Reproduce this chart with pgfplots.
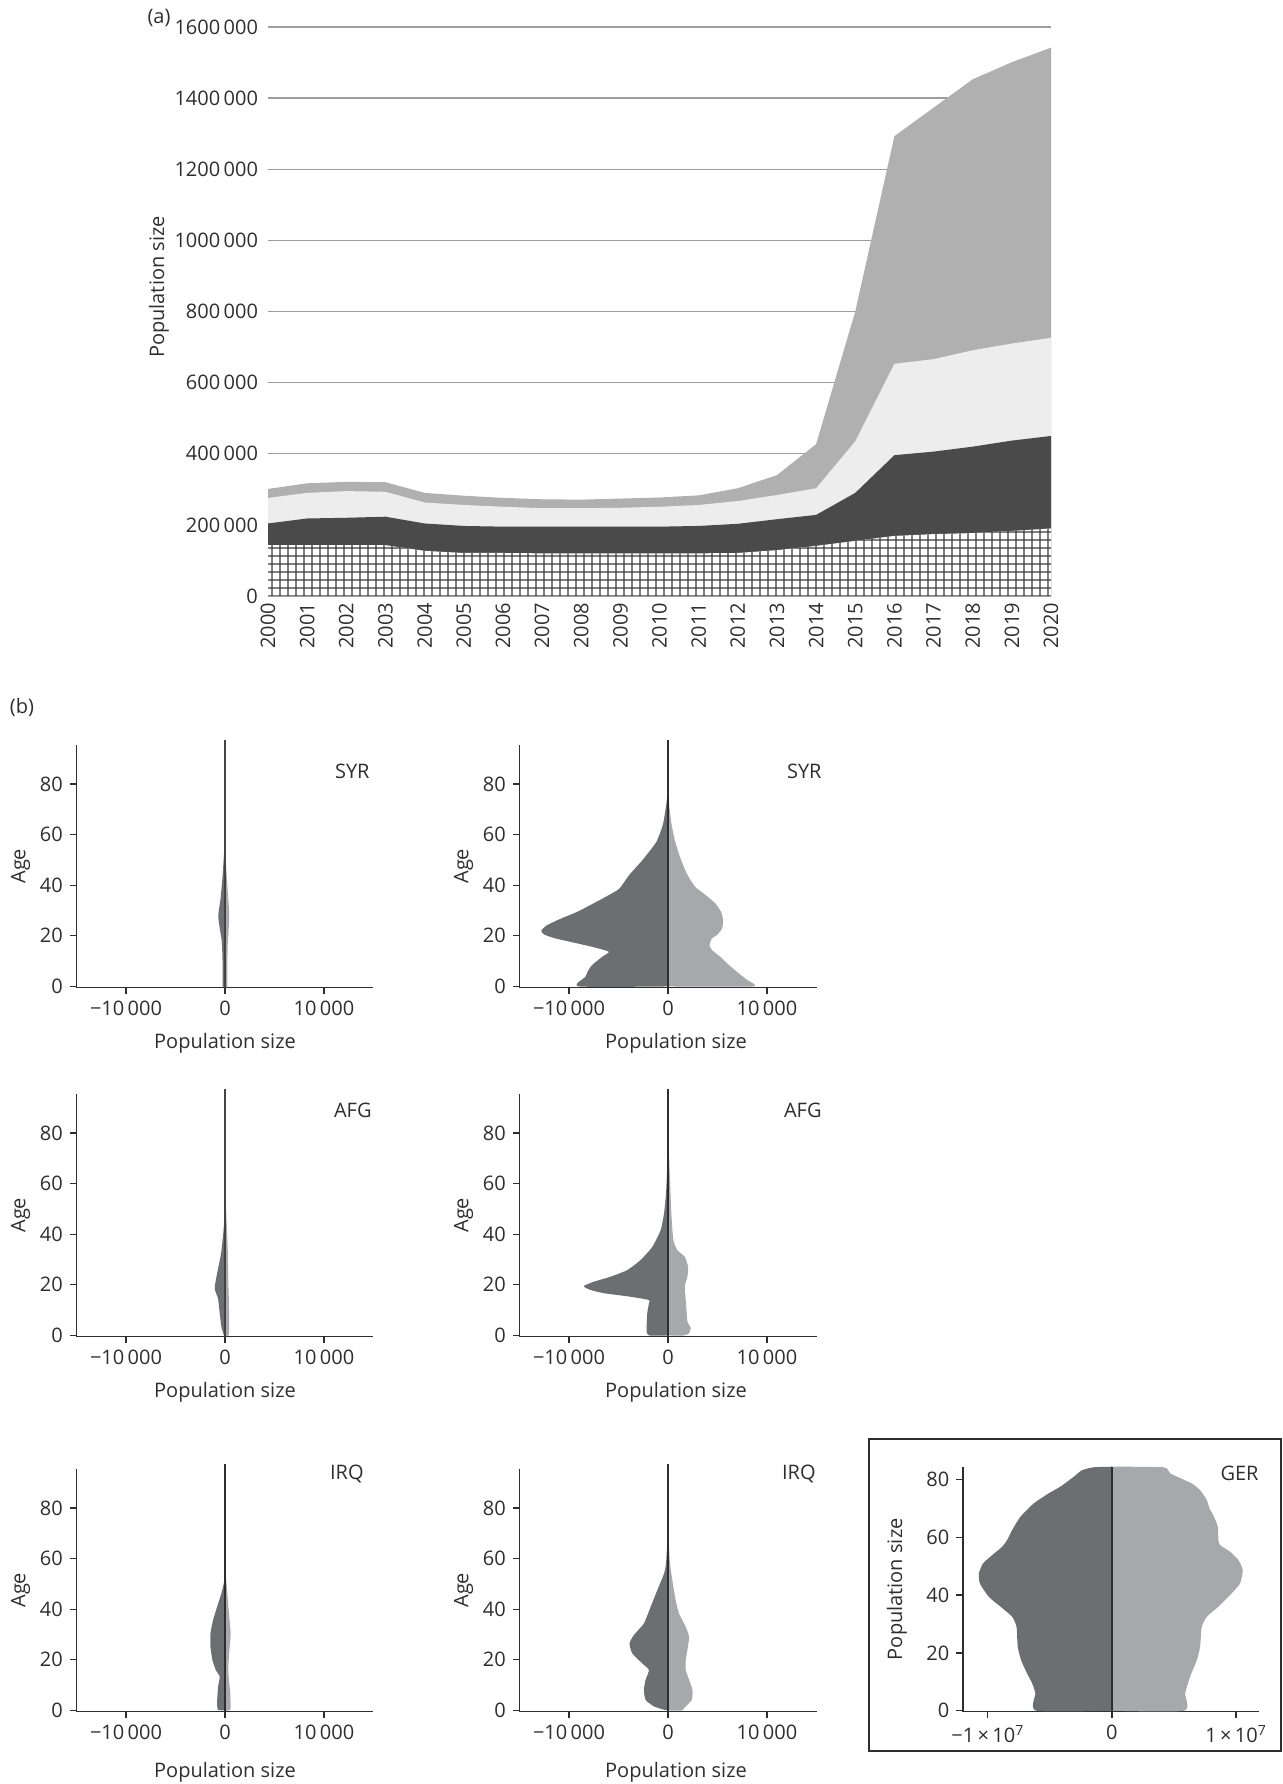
\documentclass[border=0pt]{standalone}
\usepackage{fontspec}
\setmainfont{Open Sans}
\usepackage{pgfplots}
\pgfplotsset{compat=1.18}
\usetikzlibrary{patterns}

\definecolor{topg}{HTML}{B0B0B0}
\definecolor{lightg}{HTML}{EDEDED}
\definecolor{darkg}{HTML}{4A4A4A}
\definecolor{hatchc}{HTML}{3C3C3C}
\definecolor{mal}{HTML}{6D6E71}
\definecolor{fem}{HTML}{A7A8AB}
\definecolor{axc}{HTML}{2E2E2E}
\definecolor{gridc}{HTML}{9D9D9D}

\pgfdeclarepatternformonly{hgrid}{\pgfpoint{0pt}{0pt}}{\pgfpoint{4.2pt}{4.2pt}}{\pgfpoint{4.2pt}{4.2pt}}{%
  \pgfsetlinewidth{0.7pt}%
  \pgfpathmoveto{\pgfpoint{0pt}{2.1pt}}\pgfpathlineto{\pgfpoint{4.2pt}{2.1pt}}%
  \pgfpathmoveto{\pgfpoint{2.1pt}{0pt}}\pgfpathlineto{\pgfpoint{2.1pt}{4.2pt}}%
  \pgfusepath{stroke}}

\newcommand{\tfont}{\fontsize{10}{12}\selectfont}

\tikzset{cty/.style={anchor=east, inner sep=0pt, font=\tfont, text=axc}}

\pgfplotsset{
  pyr/.style={
    scale only axis, width=148.5pt, height=121.5pt,
    xmin=-15000, xmax=15000, ymin=-0.5, ymax=95.5,
    enlargelimits=false, clip=false,
    axis lines*=left,
    axis line style={-, draw=axc, line width=0.65pt},
    tick style={draw=axc, line width=0.65pt},
    tick align=outside, major tick length=3.3pt,
    scaled ticks=false,
    xtick={-10000,0,10000}, xticklabels={−10\,000,0,10\,000},
    ytick={0,20,40,60,80}, yticklabels={0,20,40,60,80},
    tick label style={font=\tfont, text=axc},
    label style={font=\tfont, text=axc},
    xlabel={Population size}, ylabel={Age},
    xlabel style={at={(axis description cs:0.5,0)}, anchor=center, yshift=-28pt},
    ylabel style={at={(axis description cs:0,0.5)}, anchor=center, yshift=28pt},
  },
  col2/.style={xlabel style={xshift=4pt}},
  male/.style={fill=mal, draw=none, smooth, tension=0.35},
  female/.style={fill=fem, draw=none, smooth, tension=0.35},
  cline/.style={draw=axc, line width=0.6pt},
  clinethick/.style={draw=axc!90, line width=1.0pt},
}

\pgfplotstableread{
year hatch dark light top
2000 143000 204000 276000 301000
2001 143000 218000 290000 317000
2002 143000 220000 295000 321000
2003 143000 223000 293000 320000
2004 127000 204000 263000 290000
2005 121000 197000 256000 282000
2006 121000 195000 251000 276000
2007 120000 195000 247000 272000
2008 120000 195000 247000 271000
2009 120000 195000 248000 274000
2010 120000 195000 251000 277000
2011 120000 197000 256000 283000
2012 121000 203000 267000 303000
2013 129000 216000 284000 340000
2014 141000 228000 303000 427000
2015 155000 290000 435000 800000
2016 169000 396000 653000 1293000
2017 174000 406000 666000 1373000
2018 177000 420000 691000 1453000
2019 183000 437000 710000 1501000
2020 190000 450000 726000 1542000
}\stackdata

\begin{document}
\begin{tikzpicture}
\useasboundingbox (0pt,0pt) rectangle (641pt,-892pt);

\node[font=\tfont, text=axc] at (79.5pt,-9pt) {(a)};
\node[font=\tfont, text=axc] at (11pt,-353.5pt) {(b)};

% ---------------- (a) stacked areas ----------------
\begin{axis}[
  at={(134pt,-298pt)}, anchor=south west,
  scale only axis, width=391.5pt, height=284.5pt,
  xmin=2000, xmax=2020, ymin=0, ymax=1600000,
  enlargelimits=false, scaled ticks=false,
  axis line style={draw=none}, major tick length=0pt,
  ymajorgrids, grid style={gridc, line width=0.65pt},
  ytick={0,200000,400000,600000,800000,1000000,1200000,1400000,1600000},
  yticklabels={0,200\,000,400\,000,600\,000,800\,000,1000\,000,1200\,000,1400\,000,1600\,000},
  xtick={2000,2001,2002,2003,2004,2005,2006,2007,2008,2009,2010,2011,2012,2013,2014,2015,2016,2017,2018,2019,2020},
  xticklabels={2000,2001,2002,2003,2004,2005,2006,2007,2008,2009,2010,2011,2012,2013,2014,2015,2016,2017,2018,2019,2020},
  tick label style={font=\tfont, text=axc},
  xticklabel style={rotate=90, anchor=east},
  yticklabel style={xshift=-1.5pt},
  ylabel={Population size},
  label style={font=\tfont, text=axc},
  ylabel style={at={(axis description cs:0,0.543)}, anchor=center, yshift=54.5pt},
]
\addplot[fill=topg, draw=none] table[x=year, y=top] {\stackdata} \closedcycle;
\addplot[fill=lightg, draw=none] table[x=year, y=light] {\stackdata} \closedcycle;
\addplot[fill=darkg, draw=none] table[x=year, y=dark] {\stackdata} \closedcycle;
\addplot[fill=white, draw=none] table[x=year, y=hatch] {\stackdata} \closedcycle;
\addplot[pattern=hgrid, pattern color=hatchc, draw=none] table[x=year, y=hatch] {\stackdata} \closedcycle;
\end{axis}

% ---------------- row 1: SYR ----------------
\begin{axis}[pyr, at={(38.25pt,-493.85pt)}, anchor=south west]
\addplot[male] coordinates {(0,0) (-240,0) (-240,6) (-260,12) (-340,18.3) (-680,27.4) (-440,35) (-240,44) (-70,54.5) (0,60)};
\addplot[female] coordinates {(0,0) (230,0) (230,5.5) (270,16) (430,27.4) (270,38) (100,48) (0,56)};
\addplot[clinethick] coordinates {(0,-0.5) (0,97.5)};
\node[cty, xshift=-1.75pt] at (axis cs:15000,85) {SYR};
\end{axis}

\begin{axis}[pyr, col2, at={(259.75pt,-493.85pt)}, anchor=south west]
\addplot[male] coordinates {(0,0) (-8976,0) (-8362,3.8) (-8020,6.5) (-7679,8.4) (-6655,11.7) (-5973,13.7) (-7500,15.5) (-9500,17.3) (-11400,19.0) (-12500,20.5) (-12800,22) (-12300,24) (-11000,26.5) (-9000,29.8) (-5973,36.1) (-4900,38.7) (-3925,44) (-2560,50) (-1195,57) (-512,64) (-171,72) (-34,77.6) (0,79)};
\addplot[female] coordinates {(0,0) (8532,0) (8020,2.5) (7167,5.1) (5973,9.1) (5290,11.7) (4437,14.4) (4198,16.3) (4437,19) (4949,20.3) (5461,22.9) (5563,26.2) (5358,29.5) (4778,32.8) (3584,36.8) (2730,39.4) (1877,44.7) (1195,51.3) (683,57.8) (341,64.4) (137,71) (34,77.6) (0,79)};
\addplot[cline] coordinates {(0,-0.5) (0,97.5)};
\node[cty, xshift=2.75pt] at (axis cs:15000,85) {SYR};
\end{axis}

% ---------------- row 2: AFG ----------------
\begin{axis}[pyr, at={(38.25pt,-668.35pt)}, anchor=south west]
\addplot[male] coordinates {(0,0) (-130,0.3) (-370,3.5) (-535,8.8) (-700,14.5) (-1040,18.6) (-800,24.5) (-400,32.4) (-150,41.6) (0,50.8)};
\addplot[female] coordinates {(0,0) (400,0.5) (400,12) (330,22) (270,35) (130,48) (30,61) (0,70)};
\addplot[clinethick] coordinates {(0,-0.5) (0,97.5)};
\node[cty, xshift=-0.75pt] at (axis cs:15000,89) {AFG};
\end{axis}

\begin{axis}[pyr, col2, at={(259.75pt,-668.35pt)}, anchor=south west]
\addplot[male] coordinates {(0,0) (-1900,0) (-2150,1.5) (-2162,3.5) (-2095,8.8) (-1926,12.7) (-1926,14) (-3784,15.3) (-6486,16.7) (-7838,18) (-8514,19.5) (-7500,21.2) (-5811,23.2) (-4122,25.8) (-2770,29.8) (-1588,35) (-743,41.6) (-405,48.1) (-203,56) (-68,67.8) (0,81)};
\addplot[female] coordinates {(0,0) (1622,0) (2128,0.9) (2297,2.9) (1959,5.5) (1892,8.8) (1791,14) (1689,19.3) (1959,23.2) (2027,27.1) (1689,31.1) (946,33.7) (541,37.6) (338,48.1) (203,61.2) (68,74.4) (0,81)};
\addplot[cline] coordinates {(0,-0.5) (0,97.5)};
\node[cty, xshift=2.75pt] at (axis cs:15000,89) {AFG};
\end{axis}

% ---------------- row 3: IRQ ----------------
\begin{axis}[pyr, at={(38.25pt,-855.85pt)}, anchor=south west, xlabel style={yshift=-2.5pt}]
\addplot[male] coordinates {(0,0) (-700,0.3) (-800,2.9) (-700,9.4) (-535,13.4) (-936,16) (-1270,19.9) (-1470,25.2) (-1470,30.4) (-1204,35.7) (-800,40.9) (-370,46.2) (-130,50.1) (0,52.7)};
\addplot[female] coordinates {(0,0) (535,0.3) (535,6.8) (400,12) (335,17.3) (470,25.2) (570,30.4) (400,38.3) (234,46.2) (67,54) (0,56)};
\addplot[cline] coordinates {(0,-0.5) (0,97.5)};
\node[cty, xshift=-4.75pt] at (axis cs:15000,93.4) {IRQ};
\end{axis}

\begin{axis}[pyr, col2, at={(259.75pt,-855.85pt)}, anchor=south west, xlabel style={yshift=-2.5pt}]
\addplot[male] coordinates {(0,0) (-405,0.3) (-1419,1.6) (-2264,4.2) (-2432,8.1) (-2264,12.1) (-1926,16) (-2601,18.6) (-3615,22.6) (-3885,26.5) (-3446,29.8) (-2432,34.4) (-1757,40.9) (-1081,47.5) (-405,54) (-203,58) (-68,67.1) (0,80)};
\addplot[female] coordinates {(0,0) (1400,0) (1622,0.9) (2399,4.2) (2466,8.1) (2128,12.1) (1791,16) (1791,19.9) (1959,23.9) (2128,29.1) (1791,33) (1115,38.3) (777,43.5) (439,51.4) (203,58) (68,67.1) (0,80)};
\addplot[cline] coordinates {(0,-0.5) (0,97.5)};
\node[cty, xshift=-0.25pt] at (axis cs:15000,93.4) {IRQ};
\end{axis}

% ---------------- GER ----------------
\draw[axc, line width=0.65pt] (434.5pt,-719.5pt) rectangle (640.5pt,-875.5pt);
\begin{axis}[pyr, at={(481.5pt,-855.85pt)}, anchor=south west,
  width=148pt, height=122.5pt,
  xmin=-12000000, xmax=11850000, ymin=-0.35, ymax=84.4,
  xtick={-10000000,0,10000000},
  xticklabels={−1\,×\,10\textsuperscript{7},0,1\,×\,10\textsuperscript{7}},
  xlabel={}, ylabel={Population size},
  ylabel style={yshift=5pt}]
\addplot[male] coordinates {(0,0) (-6090000,0) (-6170000,6) (-6430000,9.5) (-6840000,12.9) (-7320000,17.5) (-7590000,22.1) (-7690000,29) (-8040000,32.5) (-8980000,36) (-9920000,39.4) (-10640000,44) (-10720000,47.5) (-10380000,51) (-9650000,53.8) (-8850000,56.7) (-8450000,59) (-8040000,62.5) (-7370000,67.1) (-6300000,71.7) (-5090000,75.2) (-4160000,77.5) (-3080000,80.9) (-2410000,83.2) (-1470000,84.2) (0,84.4)};
\addplot[female] coordinates {(0,0) (5820000,0) (5900000,6) (6300000,11.8) (6840000,17.5) (7100000,22.1) (7240000,29) (7640000,32.5) (8580000,36) (9650000,40.6) (10320000,44) (10540000,48.6) (10190000,52.1) (9520000,55) (8710000,57.3) (8580000,59) (8530000,63.6) (8230000,67.1) (7860000,70) (7640000,72.9) (7100000,76.3) (6430000,78.6) (4690000,82.1) (4160000,84.2) (0,84.4)};
\addplot[cline] coordinates {(0,-0.35) (0,84.4)};
\node[cty] at (axis cs:11850000,82) {GER};
\end{axis}
\end{tikzpicture}
\end{document}
